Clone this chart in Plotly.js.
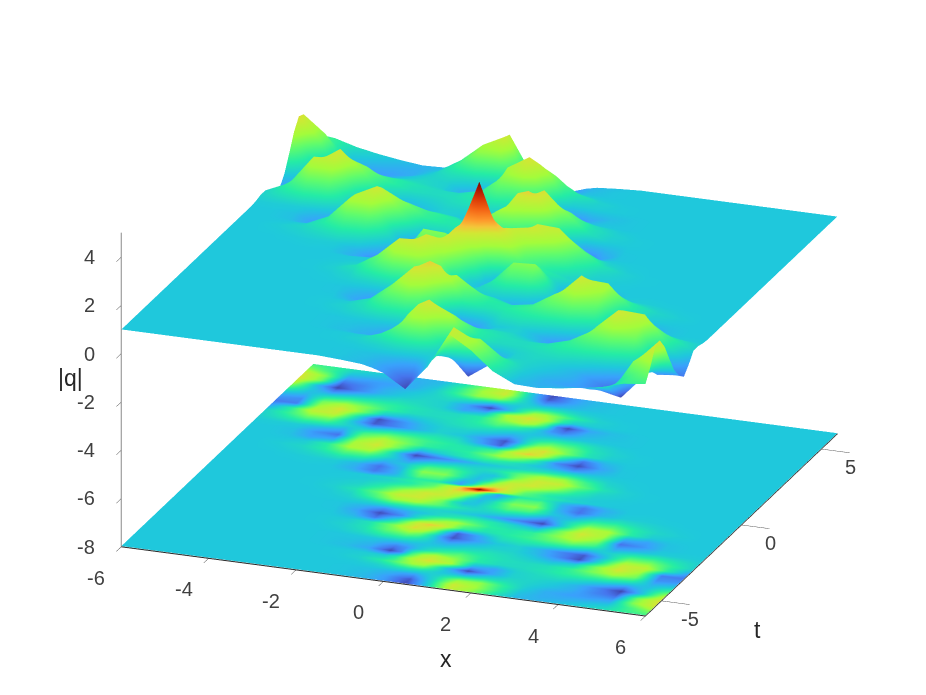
<!DOCTYPE html>
<html><head><meta charset="utf-8">
<script src="https://cdn.plot.ly/plotly-3.0.1.min.js"></script>
<style>html,body{margin:0;padding:0;background:#fff}#c{width:926px;height:695px}</style></head>
<body><div id="c"></div>
<script>
const xs=[-6,-5.5,-5,-4.5,-4,-3.5,-3,-2.5,-2,-1.5,-1,-.5,-.25,0,.25,.5,1,1.5,2,2.5,3,3.5,4,4.5,5,5.5,6];
const ts=[-6,-5.7,-5.4,-5.1,-4.8,-4.5,-4.2,-3.9,-3.6,-3.3,-3,-2.7,-2.4,-2.1,-1.8,-1.5,-1.2,-.9,-.6,-.3,-.15,0,.15,.3,.6,.9,1.2,1.5,1.8,2.1,2.4,2.7,3,3.3,3.6,3.9,4.2,4.5,4.8,5.1,5.4,5.7,6];
const absQ=[
[1,1,1,1,1,1,1,1,1,1,.95,.88,.78,.63,.35,.08,1.1,2.6,2.05,1.3,.88,.85,.95,1.08,1.25,1.5,1.6],
[1,1,1,1,1,1,1,1,1,1,.98,.9,.8,.65,.4,.2,1.2,2.7,2.25,1.5,.95,.8,.8,.9,1,1.6,2.1],
[1,1,1,1,1,1,1,1,1,1,.98,.95,.9,.85,.75,.7,1.2,2.1,2.15,1.5,1.05,.8,.7,.65,.7,2.05,2.75],
[1,1,1,1,1,1,1,1,1,1,1.02,1.1,1.2,1.3,1.35,1.3,1,.95,1.25,1.25,1.1,.95,.8,.5,.3,1.95,2.85],
[1,1,1,1,1,1,1,1,1,1.02,1.1,1.4,1.65,2,2.25,2.2,1,.08,.7,1.1,1.15,1.05,.85,.5,.05,1,2.4],
[1,1,1,1,1,1,1,1,1,1.02,1.05,1.05,1.4,2.1,2.6,2.85,2.3,.85,.7,1.1,1.2,1.25,1.15,.95,.65,1,1.7],
[1,1,1,1,1,1,1,1,.98,.92,.75,.08,.5,1.55,2.2,2.5,2.1,1.4,1.2,1.2,1.3,1.45,1.55,1.55,1.3,.85,1.05],
[1,1,1,1,1,1,1,1,.98,.95,.85,.45,.6,.95,1.25,1.5,1.75,1.4,1.25,1.2,1.25,1.5,2,2.3,1.95,.55,.65],
[1,1,1,1,1,1,1,1,.98,1,1,.95,.95,.95,1,1.05,1.25,1.3,1.2,1.05,.9,1.05,2,2.8,2.2,.45,.4],
[1,1,1,1,1,1,1,1,1.05,1.2,1.45,1.5,1.35,1.15,.85,.7,.95,1.1,1.1,.9,.55,.12,1.3,2.6,2.55,1.45,.7],
[1,1,1,1,1,1,1,1.02,1.1,1.3,1.85,2.15,1.9,1.3,.65,.15,.65,1,1.1,.85,.5,.2,1,2,2.05,1.5,1.1],
[1,1,1,1,1,1,1,1.02,1.05,1.3,2,2.85,2.6,1.95,1,.25,.75,1.25,1.35,1.35,1.25,.95,1.1,1.45,1.5,1.3,1.1],
[1,1,1,1,1,1,1,1,.85,.4,1.3,2.7,2.95,2.8,2.2,1.55,1.3,1.4,1.55,1.8,1.95,1.6,.75,.9,1.05,1.05,1.03],
[1,1,1,1,1,1,1,.98,.7,.1,.55,1.5,1.9,2.2,2.3,2,1.45,1.35,1.5,2.05,2.5,2,.35,.6,.95,1,1],
[1,1,1,1,1,1,1,.98,.85,.6,.8,1.05,1.2,1.35,1.45,1.5,1.35,1.1,.9,1.9,2.75,2.3,.8,.7,.95,1,1],
[1,1,1,1,1,1,1.01,1.05,1.15,1.35,1.3,1.15,1.1,1.05,1,.95,.7,.45,.08,1.2,2.4,2.35,1.45,1.05,1,1,1],
[1,1,1,1,1,1,1.03,1.15,1.6,2.2,2.25,1.8,1.5,1.3,1.2,1.15,1.2,1,.6,1.15,1.75,1.8,1.4,1.15,1.05,1,1],
[1,1,1,1,1,1.01,1.08,1.3,1.85,2.65,2.7,2,1.3,.95,1,1.25,1.75,1.65,1,.8,1.25,1.35,1.2,1.08,1.02,1,1],
[1,1,1,1,1,1.01,1.06,1.15,1.5,2.2,2.75,2.6,2,1.2,.9,1.15,2.05,2.1,.9,.35,.85,1.05,1.05,1.02,1,1,1],
[1,1,1,1,1,1,1.02,1.06,1.25,1.55,2.1,2.8,2.65,2,1,.75,1.65,1.75,.85,.4,.8,1,1.02,1,1,1,1],
[1,1,1,1,1,1,1.01,1.04,1.15,1.4,1.85,2.85,3.2,3,1.6,.65,1.4,1.45,.95,.65,.88,1,1,1,1,1,1],
[1,1,1,1,1,1,1,1.05,1.2,1.45,1.7,2.6,3.6,4.78,3.6,2.6,1.7,1.45,1.2,1.05,1,1,1,1,1,1,1],
[1,1,1,1,1,1,.88,.65,.95,1.45,1.4,.65,1.6,3,3.2,2.85,1.85,1.4,1.15,1.04,1.01,1,1,1,1,1,1],
[1,1,1,1,1.02,1,.8,.4,.85,1.75,1.65,.75,1,2,2.65,2.8,2.1,1.55,1.25,1.06,1.02,1,1,1,1,1,1],
[1,1,1,1.02,1.05,1.05,.85,.35,.9,2.1,2.05,1.15,.9,1.2,2,2.6,2.75,2.2,1.5,1.15,1.06,1.01,1,1,1,1,1],
[1,1,1.02,1.08,1.2,1.35,1.25,.8,1,1.65,1.75,1.25,1,.95,1.3,2,2.7,2.65,1.85,1.3,1.08,1.01,1,1,1,1,1],
[1,1,1.05,1.15,1.4,1.8,1.75,1.15,.6,1,1.2,1.15,1.2,1.3,1.5,1.8,2.25,2.2,1.6,1.15,1.03,1,1,1,1,1,1],
[1,1,1,1.05,1.45,2.35,2.4,1.2,.08,.45,.7,.95,1,1.05,1.1,1.15,1.3,1.35,1.15,1.05,1.01,1,1,1,1,1,1],
[1,1,.95,.7,.8,2.3,2.75,1.9,.9,1.1,1.35,1.5,1.45,1.35,1.2,1.05,.8,.6,.85,.98,1,1,1,1,1,1,1],
[1,1,.95,.6,.35,2,2.5,2.05,1.5,1.35,1.45,2,2.3,2.2,1.9,1.5,.55,.1,.7,.98,1,1,1,1,1,1,1],
[1.03,1.05,1.05,.9,.75,1.6,1.95,1.8,1.55,1.4,1.3,1.55,2.2,2.8,2.95,2.7,1.3,.4,.85,1,1,1,1,1,1,1,1],
[1.1,1.3,1.5,1.45,1.1,.95,1.25,1.35,1.35,1.25,.75,.25,1,1.95,2.6,2.85,2,1.3,1.05,1.02,1,1,1,1,1,1,1],
[1.1,1.5,2.05,2,1,.2,.5,.85,1.1,1,.65,.15,.65,1.3,1.9,2.15,1.85,1.3,1.1,1.02,1,1,1,1,1,1,1],
[.7,1.45,2.55,2.6,1.3,.12,.55,.9,1.1,1.1,.95,.7,.85,1.15,1.35,1.5,1.45,1.2,1.05,1,1,1,1,1,1,1,1],
[.4,.45,2.2,2.8,2,1.05,.9,1.05,1.2,1.3,1.25,1.05,1,.95,.95,.95,1,1,.98,1,1,1,1,1,1,1,1],
[.65,.55,1.95,2.3,2,1.5,1.25,1.2,1.25,1.4,1.75,1.5,1.25,.95,.6,.45,.85,.95,.98,1,1,1,1,1,1,1,1],
[1.05,.85,1.3,1.55,1.55,1.45,1.3,1.2,1.2,1.4,2.1,2.5,2.2,1.55,.5,.08,.75,.92,.98,1,1,1,1,1,1,1,1],
[1.7,1,.65,.95,1.15,1.25,1.2,1.1,.7,.85,2.3,2.85,2.6,2.1,1.4,1.05,1.05,1.02,1,1,1,1,1,1,1,1,1],
[2.4,1,.05,.5,.85,1.05,1.15,1.1,.7,.08,1,2.2,2.25,2,1.65,1.4,1.1,1.02,1,1,1,1,1,1,1,1,1],
[2.85,1.95,.3,.5,.8,.95,1.1,1.25,1.25,.95,1,1.3,1.35,1.3,1.2,1.1,1.02,1,1,1,1,1,1,1,1,1,1],
[2.75,2.05,.7,.65,.7,.8,1.05,1.5,2.15,2.1,1.2,.7,.75,.85,.9,.95,.98,1,1,1,1,1,1,1,1,1,1],
[2.1,1.6,1,.9,.8,.8,.95,1.5,2.25,2.7,1.2,.2,.4,.65,.8,.9,.98,1,1,1,1,1,1,1,1,1,1],
[1.6,1.5,1.25,1.08,.95,.85,.88,1.3,2.05,2.6,1.1,.08,.35,.63,.78,.88,.95,1,1,1,1,1,1,1,1,1,1]
];
const floorZ=-7.97;
const zMin=0, zMax=4.78;
const colorZ=[0,.35,.7,1,1.4,1.85,2.25,2.75,3.0,3.25,3.7,4.1,4.45,4.78];
const colorHex=["#3f40a8","#4675ed","#39a2fc","#1fc8dc","#24eca6","#61fc6c","#a4fc3b","#d1e834","#f3c63a","#fe9b2d","#f36315","#d93806","#b11901","#7a0402"];
const xTicks=[-6,-4,-2,0,2,4,6], tTicks=[-5,0,5], zTicks=[-8,-6,-4,-2,0,2,4];
const cs=colorZ.map((z,i)=>[(z-zMin)/(zMax-zMin),colorHex[i]]);
const flat={ambient:1,diffuse:0,specular:0,fresnel:0,roughness:1};
const common={x:xs,y:ts,colorscale:cs,cmin:zMin,cmax:zMax,showscale:false,lighting:flat,hoverinfo:'skip',contours:{x:{highlight:false},y:{highlight:false},z:{highlight:false}}};
const traces=[
 Object.assign({type:'surface',z:absQ},common),
 Object.assign({type:'surface',z:absQ.map(r=>r.map(()=>floorZ)),surfacecolor:absQ},common)
];
const fam='"Liberation Sans",Arial,sans-serif';
const tickFont={family:fam,size:20,color:'#404040'};
const titleFont={family:fam,size:23,color:'#262626'};
const ax=(vals,rng,col,w,len)=>({title:{text:''},range:rng,tickmode:'array',tickvals:vals,showticklabels:false,
 showgrid:false,zeroline:false,showbackground:false,showline:true,linecolor:col,linewidth:w,ticks:'outside',ticklen:len,tickwidth:1,tickcolor:'#303030',showspikes:false});
const note=(x,y,z,text,xs_,ys_,font,anchor)=>({x,y,z,text,showarrow:false,xshift:xs_,yshift:ys_,font,xanchor:anchor||'center',yanchor:'middle'});
const labels=[
 ...xTicks.map(v=>note(v,-6,-8,String(v),-25,-31,tickFont)),
 ...tTicks.map(v=>note(6,v,-8,String(v),29,-18,tickFont)),
 ...zTicks.map(v=>note(-6,-6,v,String(v),-24,0,tickFont,'right')),
 note(0,-6,-8,'x',63,-78,titleFont),
 note(6,-2,-8,'t',48,-75,titleFont),
 note(-6,-6,-1,'|q|',-51,0,titleFont)
];
const eyeDir={x:.72,y:-1.93,z:.78}, cen={x:-.039,y:-.030,z:-.038};
Plotly.newPlot('c',traces,{
 width:926,height:695,margin:{l:0,r:0,t:0,b:0},paper_bgcolor:'#fff',showlegend:false,
 scene:{domain:{x:[0,1],y:[0,1]},aspectmode:'manual',aspectratio:{x:1.61,y:1.58,z:.966},
  xaxis:ax(xTicks,[-6,6],'#262626',2,30),yaxis:ax(tTicks,[-6,6],'#262626',2,14),zaxis:ax(zTicks,[-8,5],'#8a8a8a',2,30),annotations:labels,
  camera:{projection:{type:'orthographic'},eye:{x:eyeDir.x+cen.x,y:eyeDir.y+cen.y,z:eyeDir.z+cen.z},center:cen,up:{x:0,y:0,z:1}}}
},{displayModeBar:false});
</script></body></html>
